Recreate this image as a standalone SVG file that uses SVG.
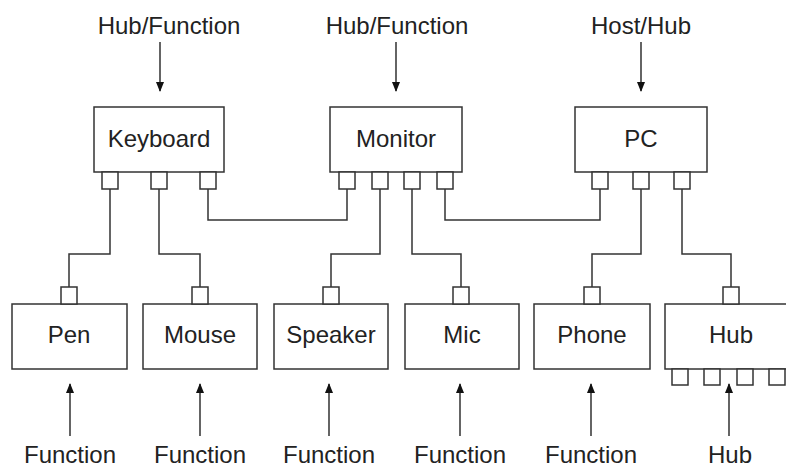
<svg xmlns="http://www.w3.org/2000/svg" width="786" height="468" viewBox="0 0 786 468">
<defs>
<style>
.box{fill:#fff;stroke:#333;stroke-width:1.5}
.port{fill:#fff;stroke:#333;stroke-width:1.5}
.wire{fill:none;stroke:#333;stroke-width:1.5}
.arr{fill:none;stroke:#111;stroke-width:1.3}
.lbl{font-family:"Liberation Sans",Arial,sans-serif;font-size:24px;fill:#222;text-anchor:middle}
</style>
<marker id="ah" markerWidth="10" markerHeight="10" refX="9" refY="5" orient="auto" markerUnits="userSpaceOnUse">
<path d="M0,1 L10,5 L0,9 Z" fill="#111"/>
</marker>
</defs>
<rect width="786" height="468" fill="#fff"/>
<g id="connectors">
<path class="wire" d="M110,189 V254 H69 V287"/>
<path class="wire" d="M159,189 V254 H200 V287"/>
<path class="wire" d="M208,189 V220 H347 V189"/>
<path class="wire" d="M380,189 V254 H331 V287"/>
<path class="wire" d="M412,189 V254 H461 V287"/>
<path class="wire" d="M445,189 V220 H600 V189"/>
<path class="wire" d="M641,189 V254 H592 V287"/>
<path class="wire" d="M682,189 V254 H731 V287"/>
<line class="arr" x1="160" y1="42" x2="160" y2="91" marker-end="url(#ah)"/>
<line class="arr" x1="396" y1="42" x2="396" y2="91" marker-end="url(#ah)"/>
<line class="arr" x1="641" y1="42" x2="641" y2="91" marker-end="url(#ah)"/>
<line class="arr" x1="70" y1="436" x2="70" y2="384" marker-end="url(#ah)"/>
<line class="arr" x1="200" y1="436" x2="200" y2="384" marker-end="url(#ah)"/>
<line class="arr" x1="329" y1="436" x2="329" y2="384" marker-end="url(#ah)"/>
<line class="arr" x1="460" y1="436" x2="460" y2="384" marker-end="url(#ah)"/>
<line class="arr" x1="591" y1="436" x2="591" y2="384" marker-end="url(#ah)"/>
<line class="arr" x1="729" y1="436" x2="729" y2="384" marker-end="url(#ah)"/>
</g>
<g id="labels">
<text class="lbl" x="169" y="34">Hub/Function</text>
<text class="lbl" x="397" y="34">Hub/Function</text>
<text class="lbl" x="641" y="34">Host/Hub</text>
<text class="lbl" x="70" y="463">Function</text>
<text class="lbl" x="200" y="463">Function</text>
<text class="lbl" x="329" y="463">Function</text>
<text class="lbl" x="460" y="463">Function</text>
<text class="lbl" x="591" y="463">Function</text>
<text class="lbl" x="730" y="463">Hub</text>
</g>
<g id="keyboard">
<rect class="box" x="94" y="107" width="130" height="65"/>
<rect class="port" x="102" y="172" width="16" height="17"/>
<rect class="port" x="151" y="172" width="16" height="17"/>
<rect class="port" x="200" y="172" width="16" height="17"/>
<text class="lbl" x="159" y="147">Keyboard</text>
</g>
<g id="monitor">
<rect class="box" x="330" y="107" width="132" height="65"/>
<rect class="port" x="339" y="172" width="16" height="17"/>
<rect class="port" x="372" y="172" width="16" height="17"/>
<rect class="port" x="404" y="172" width="16" height="17"/>
<rect class="port" x="437" y="172" width="16" height="17"/>
<text class="lbl" x="396" y="147">Monitor</text>
</g>
<g id="pc">
<rect class="box" x="575" y="107" width="132" height="65"/>
<rect class="port" x="592" y="172" width="16" height="17"/>
<rect class="port" x="633" y="172" width="16" height="17"/>
<rect class="port" x="674" y="172" width="16" height="17"/>
<text class="lbl" x="641" y="147">PC</text>
</g>
<g id="pen">
<rect class="box" x="12" y="304" width="115" height="65"/>
<rect class="port" x="61" y="287" width="16" height="17"/>
<text class="lbl" x="69" y="343">Pen</text>
</g>
<g id="mouse">
<rect class="box" x="143" y="304" width="114" height="65"/>
<rect class="port" x="192" y="287" width="16" height="17"/>
<text class="lbl" x="200" y="343">Mouse</text>
</g>
<g id="speaker">
<rect class="box" x="274" y="304" width="114" height="65"/>
<rect class="port" x="323" y="287" width="16" height="17"/>
<text class="lbl" x="331" y="343">Speaker</text>
</g>
<g id="mic">
<rect class="box" x="405" y="304" width="114" height="65"/>
<rect class="port" x="453" y="287" width="16" height="17"/>
<text class="lbl" x="462" y="343">Mic</text>
</g>
<g id="phone">
<rect class="box" x="534" y="304" width="116" height="65"/>
<rect class="port" x="584" y="287" width="16" height="17"/>
<text class="lbl" x="592" y="343">Phone</text>
</g>
<g id="hub">
<rect class="box" x="665" y="304" width="132" height="65"/>
<rect class="port" x="723" y="287" width="16" height="17"/>
<rect class="port" x="672" y="369" width="16" height="16"/>
<rect class="port" x="704" y="369" width="16" height="16"/>
<rect class="port" x="737" y="369" width="16" height="16"/>
<rect class="port" x="769" y="369" width="16" height="16"/>
<text class="lbl" x="731" y="343">Hub</text>
</g>
</svg>
